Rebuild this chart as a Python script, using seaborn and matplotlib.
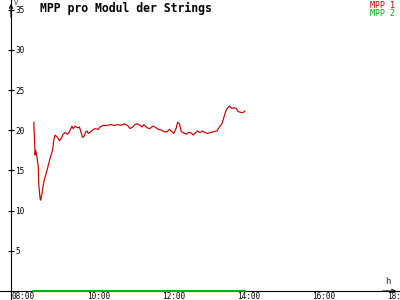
import matplotlib
matplotlib.use("Agg")
import matplotlib.pyplot as plt
import matplotlib.transforms as mtransforms
import seaborn as sns
import pandas as pd

# ---- data ----
times = ["08:29", "08:30", "08:31", "08:32", "08:34", "08:36", "08:37", "08:39", "08:40", "08:42",
         "08:45", "08:50", "08:55", "08:59", "09:01", "09:03", "09:07", "09:10", "09:13", "09:16",
         "09:19", "09:23", "09:26", "09:30", "09:32", "09:35", "09:39", "09:42", "09:45", "09:47",
         "09:50", "09:52", "09:54", "09:56", "10:00", "10:04", "10:08", "10:12", "10:15", "10:20",
         "10:27", "10:32", "10:38", "10:44", "10:48", "10:54", "10:59", "11:03", "11:07", "11:11",
         "11:14", "11:19", "11:22", "11:25", "11:30", "11:35", "11:39", "11:43", "11:48", "11:54",
         "11:57", "12:02", "12:06", "12:10", "12:13", "12:17", "12:19", "12:22", "12:25", "12:28",
         "12:33", "12:36", "12:40", "12:44", "12:48", "12:51", "12:55", "12:59", "13:03", "13:07",
         "13:11", "13:16", "13:22", "13:26", "13:30", "13:32", "13:35", "13:38", "13:42", "13:46",
         "13:49", "13:53", "13:56", "14:02", "14:04", "14:07"]
mpp1 = [21.0, 19.0, 16.9, 17.5, 16.7, 15.5, 13.2, 11.5, 11.3, 12.1,
        13.6, 15.0, 16.5, 17.5, 18.8, 19.4, 19.1, 18.7, 19.0, 19.5,
        19.7, 19.5, 19.8, 20.5, 20.2, 20.5, 20.3, 20.4, 19.6, 19.1,
        19.3, 19.8, 19.9, 19.6, 19.8, 20.1, 20.2, 20.1, 20.4, 20.6,
        20.6, 20.7, 20.6, 20.7, 20.6, 20.8, 20.6, 20.2, 20.4, 20.7,
        20.8, 20.6, 20.4, 20.7, 20.3, 20.2, 20.5, 20.4, 20.1, 20.0,
        19.8, 19.8, 20.1, 19.8, 19.6, 20.3, 21.0, 20.8, 19.8, 19.7,
        19.5, 19.7, 19.7, 19.4, 19.7, 19.9, 19.7, 19.9, 19.7, 19.6,
        19.7, 19.8, 19.9, 20.4, 20.8, 21.3, 22.1, 22.7, 23.0, 22.7,
        22.8, 22.7, 22.3, 22.2, 22.2, 22.4]
mpp2_times = ["08:28", "14:07"]
mpp2 = [0.0, 0.0]
x_tick_labels = ["08:00", "10:00", "12:00", "14:00", "16:00", "18:00"]
y_tick_values = [5, 10, 15, 20, 25, 30, 35]
title = "MPP pro Modul der Strings"
series_names = ["MPP 1", "MPP 2"]


def to_h(t):
    hh, mm = t.split(":")
    return int(hh) + int(mm) / 60.0


sns.set_style("white")
plt.rcParams['font.family'] = ['DejaVu Sans Mono', 'DejaVu Sans']

RED = "#c80000"
GREEN = "#00b400"

fig = plt.figure(figsize=(4, 3), dpi=100)
ax = fig.add_axes([0, 0, 1, 1])
ax.set_facecolor("white")

df1 = pd.DataFrame({"h": [to_h(t) for t in times], "v": mpp1})
df2 = pd.DataFrame({"h": [to_h(t) for t in mpp2_times], "v": mpp2})
sns.lineplot(data=df1, x="h", y="v", color=RED, lw=0.85, ax=ax,
             estimator=None, sort=False, zorder=4)
sns.lineplot(data=df2, x="h", y="v", color=GREEN, lw=1.4, ax=ax,
             estimator=None, sort=False, zorder=5, clip_on=False)

# pixel mapping: 08:00 at x=15.7px, 37.5 px/hour; 0 at y=291px, 8.04 px/unit
px_h = 37.5
x_left = 8 - 15.7 / px_h
x_right = 8 + (400 - 15.7) / px_h
ax.set_xlim(x_left, x_right)
ax.set_ylim(-9 / 8.04, 291 / 8.04)

ax.set_xlabel("")
ax.set_ylabel("")

ax.spines['left'].set_visible(False)
ax.spines['top'].set_visible(False)
ax.spines['right'].set_position(('data', 8 + (11 - 15.7) / px_h))
ax.spines['bottom'].set_position(('data', 0))
for s in ('right', 'bottom'):
    ax.spines[s].set_color('black')
    ax.spines[s].set_linewidth(0.8)

ax.yaxis.tick_right()
ax.set_yticks(y_tick_values)
ax.set_yticklabels([str(v) for v in y_tick_values])
ax.set_xticks([to_h(t) for t in x_tick_labels])
ax.set_xticklabels(x_tick_labels)
ax.tick_params(axis='both', direction='inout', length=4.5, width=0.8,
               colors='black', labelsize=5.6, pad=1)
ax.tick_params(axis='x', pad=-1.2)

off = mtransforms.ScaledTranslation(-4 / 100, 0, fig.dpi_scale_trans)
for lab in ax.get_xticklabels():
    lab.set_ha('left')
    lab.set_transform(lab.get_transform() + off)

# axis arrows
ax.annotate("", xy=(11 / 400, 299 / 300), xycoords='figure fraction',
            xytext=(11 / 400, 280 / 300),
            arrowprops=dict(arrowstyle='->', lw=0.8, color='black', mutation_scale=6))
ax.annotate("", xy=(399 / 400, 9 / 300), xycoords='figure fraction',
            xytext=(380 / 400, 9 / 300),
            arrowprops=dict(arrowstyle='->', lw=0.8, color='black', mutation_scale=6))

fig.text(40 / 400, 1 - 8.5 / 300, title, fontsize=8.3, fontweight='bold',
         ha='left', va='center', color='black')
fig.text(395 / 400, 1 - 5.5 / 300, series_names[0], fontsize=6, color=RED,
         ha='right', va='center')
fig.text(395 / 400, 1 - 13.5 / 300, series_names[1], fontsize=6, color=GREEN,
         ha='right', va='center')
fig.text(14 / 400, 1 - 3 / 300, "V", fontsize=5, ha='left', va='center')
fig.text(385 / 400, 1 - 281 / 300, "h", fontsize=6.5, ha='left', va='center')

fig.savefig("out.png", dpi=100, facecolor="white")
